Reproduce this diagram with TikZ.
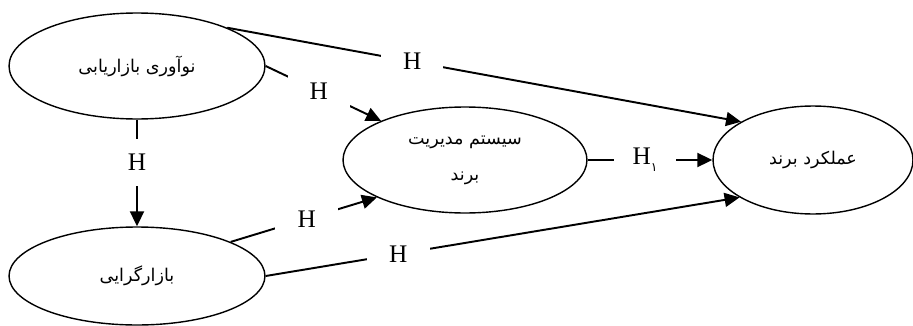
\documentclass[tikz,border=0pt]{standalone}
\usepackage{fontspec}
\setmainfont{Liberation Serif}
\newfontfamily\arabicfont[Script=Arabic]{DejaVu Sans}
\TeXXeTstate=1
\usetikzlibrary{shapes.geometric,arrows.meta}
\newcommand{\fa}[1]{{\arabicfont\beginR #1\endR}}

\begin{document}
\begin{tikzpicture}[x=0.02cm,y=-0.02cm,
	var/.style = {draw, ellipse, line width=0.8pt, inner sep=0pt},
	hyp/.style = {fill=white, minimum width=1.25cm, minimum height=0.95cm, inner sep=0pt, font=\Large},
	link/.style = {line width=1.1pt, -{Triangle[length=0.3cm,width=0.28cm]}}]
\useasboundingbox (0,0) rectangle (913,325);
% variables
\node[var, minimum width=5.12cm, minimum height=2.12cm] (nav)  at (137,66)  {\fa{نوآوری بازاریابی}};
\node[var, minimum width=5.12cm, minimum height=1.96cm] (bazar) at (137,276) {\fa{بازارگرایی}};
\node[var, minimum width=4.88cm, minimum height=2.12cm, align=center] (sys) at (465,160)
	{\fa{سیستم مدیریت}\\[0.3cm] \fa{برند}};
\node[var, minimum width=4cm, minimum height=2.16cm] (perf) at (813,160) {\fa{عملکرد برند}};
% hypotheses
\draw[link] (nav.23)  -- node[hyp, pos=0.36] (h1) {H} (perf.152);
\draw[link] (nav.east) -- node[hyp, pos=0.46] (h2) {H} (sys.155);
\draw[link] (nav.south) -- node[hyp, pos=0.4] (h3) {H} (bazar.north);
\draw[link] (bazar.20) -- node[hyp, pos=0.52] (h4) {H} (sys.203);
\draw[link] (bazar.east) -- node[hyp, pos=0.28] (h5) {H} (perf.207);
\draw[link] (sys.east) -- node[hyp, pos=0.46] (h6) {H\raisebox{-0.6ex}{\scriptsize\arabicfont ۱}} (perf.west);
\end{tikzpicture}
\end{document}
